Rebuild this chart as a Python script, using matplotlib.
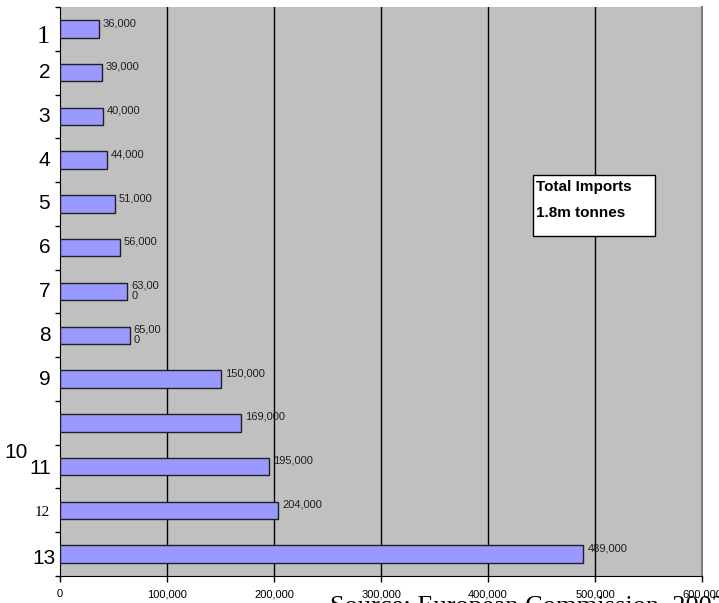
import matplotlib.pyplot as plt
from matplotlib.patches import Rectangle

# categories and import volumes (tonnes)
labels = ["1", "2", "3", "4", "5", "6", "7", "8", "9", "10", "11", "12", "13"]
values = [36000, 39000, 40000, 44000, 51000, 56000, 63000, 65000,
          150000, 169000, 195000, 204000, 489000]
value_text = ["36,000", "39,000", "40,000", "44,000", "51,000", "56,000",
              "63,00\n0", "65,00\n0", "150,000", "169,000", "195,000",
              "204,000", "489,000"]
xticks = [0, 100000, 200000, 300000, 400000, 500000, 600000]
xtick_labels = ["0", "100,000", "200,000", "300,000", "400,000", "500,000", "600,000"]

# label styling quirks copied from the original (family, size, dx px, dy px)
label_style = {
    "1": ("Liberation Serif", 19, 0, 8),
    "12": ("Liberation Serif", 11, 0, 2),
    "10": ("Liberation Sans", 15, -23, 30),
    "11": ("Liberation Sans", 15, 1, 2),
    "13": ("Liberation Sans", 15, 5, 4),
}

W, H = 719, 603
fig = plt.figure(figsize=(W / 100, H / 100), dpi=100)
ax = fig.add_axes([60 / W, 1 - 576 / H, 642 / W, 569 / H])
ax.set_facecolor("#C0C0C0")

pos = list(range(len(labels)))
bar_h = 0.4
ax.barh(pos, values, height=bar_h, color="#9999FF", edgecolor="#202020",
        linewidth=1, zorder=3)

ax.set_xlim(0, 600000)
ax.set_ylim(len(labels) - 0.5, -0.5)

for x in xticks[1:-1]:
    ax.axvline(x, color="black", linewidth=1, zorder=1)

for p, v, t in zip(pos, values, value_text):
    ax.annotate(t, (v, p - bar_h / 2), xytext=(3, 1.5), textcoords="offset points",
                ha="left", va="top", fontsize=8, family="Liberation Sans",
                color="#202020", linespacing=1.1, zorder=4)

ax.set_yticks([p - 0.5 for p in pos] + [len(labels) - 0.5])
ax.set_yticklabels([])
ax.tick_params(axis="y", direction="out", length=3.5, width=1)
ax.set_xticks(xticks)
ax.set_xticklabels(xtick_labels, fontsize=8, family="Liberation Sans")
ax.tick_params(axis="x", direction="out", length=4, width=1, pad=5.5)

for p, lab in zip(pos, labels):
    fam, size, dx, dy = label_style.get(lab, ("Liberation Sans", 15, 0, 0))
    ax.annotate(lab, (0, p), xycoords=("axes fraction", "data"),
                xytext=(-7 + dx * 0.72, -dy * 0.72), textcoords="offset points",
                ha="right", va="center", fontsize=size, family=fam,
                annotation_clip=False)

ax.spines["top"].set_visible(False)
ax.spines["right"].set_color("#808080")
ax.spines["right"].set_linewidth(1.5)
ax.spines["left"].set_color("black")
ax.spines["bottom"].set_color("black")

# total imports box
fig.add_artist(Rectangle((533 / W, 1 - 236 / H), 122 / W, 61 / H,
                         transform=fig.transFigure, facecolor="white",
                         edgecolor="black", linewidth=1, zorder=5))
fig.text(536 / W, 1 - 187 / H, "Total Imports", fontsize=11, fontweight="bold",
         family="Liberation Sans", va="center", ha="left", zorder=6)
fig.text(536 / W, 1 - 213 / H, "1.8m tonnes", fontsize=11, fontweight="bold",
         family="Liberation Sans", va="center", ha="left", zorder=6)

# source line, mostly cut off by the bottom edge and under the tick labels
fig.text(330 / W, 1 - 613 / H, "Source: European Commission, 2003", fontsize=19,
         family="Liberation Serif", va="baseline", ha="left", zorder=-1)

fig.savefig("out.png", dpi=100)
